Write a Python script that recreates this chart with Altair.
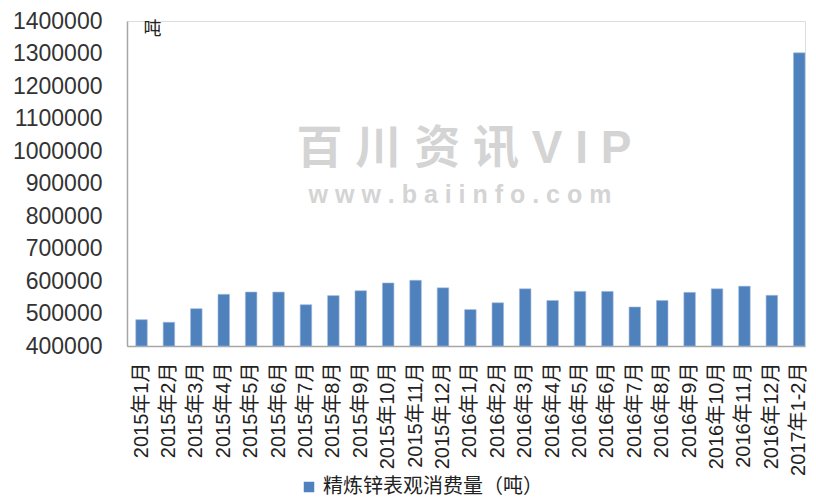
import altair as alt
import pandas as pd

months = [
    "2015年1月", "2015年2月", "2015年3月", "2015年4月", "2015年5月", "2015年6月",
    "2015年7月", "2015年8月", "2015年9月", "2015年10月", "2015年11月", "2015年12月",
    "2016年1月", "2016年2月", "2016年3月", "2016年4月", "2016年5月", "2016年6月",
    "2016年7月", "2016年8月", "2016年9月", "2016年10月", "2016年11月", "2016年12月",
    "2017年1-2月",
]
consumption = [
    481000, 473000, 515000, 559000, 566000, 566000,
    527000, 555000, 570000, 594000, 602000, 579000,
    512000, 533000, 576000, 540000, 568000, 568000,
    520000, 540000, 565000, 576000, 584000, 556000,
    1302000,
]
series_name = "精炼锌表观消费量（吨）"
y_ticks = [400000, 500000, 600000, 700000, 800000, 900000, 1000000,
           1100000, 1200000, 1300000, 1400000]

df = pd.DataFrame({"month": months, "value": consumption, "series": series_name})

FONT = "Liberation Sans, Noto Sans CJK SC"
W, H = 678, 325

bars = alt.Chart(df).mark_bar(color="#4F81BD", stroke="#9DB9DE", strokeWidth=0.6).encode(
    x=alt.X(
        "month:N",
        sort=months,
        scale=alt.Scale(paddingInner=0.58, paddingOuter=0.16, align=1),
        axis=alt.Axis(
            title=None, labelAngle=270, labelFontSize=20, labelFont=FONT,
            labelColor="#222222", labelPadding=16, ticks=False,
            domainColor="#A6A6A6", domainWidth=1.5, labelAlign="right",
            labelBaseline="middle",
        ),
    ),
    y=alt.Y(
        "value:Q",
        scale=alt.Scale(domain=[400000, 1400000], zero=False, nice=False),
        axis=alt.Axis(
            values=y_ticks, format="d", grid=False, ticks=False,
            labelFontSize=23, labelFont=FONT, labelColor="#333333", labelPadding=25,
            domainColor="#A6A6A6", domainWidth=1.5,
            title="吨", titleAngle=0, titleFont=FONT, titleFontSize=18,
            titleFontWeight="normal", titleColor="#222222",
            titleAlign="left", titleBaseline="middle", titleX=16, titleY=8,
        ),
    ),
    y2=alt.datum(400000),
    color=alt.Color(
        "series:N",
        scale=alt.Scale(range=["#4F81BD"]),
        legend=alt.Legend(
            title=None, orient="none", legendX=172, legendY=456,
            symbolType="square", symbolSize=110, symbolStrokeWidth=0,
            labelFontSize=20, labelFont=FONT, labelColor="#222222",
            padding=0, labelOffset=4, labelLimit=0,
        ),
    ),
)

wm_df = pd.DataFrame({"t1": ["百 川 资 讯  V I P"], "t2": ["w  w  w  .  b  a  i  i  n  f  o  .  c  o  m"]})

wm1 = alt.Chart(wm_df).mark_text(
    fontSize=46, font=FONT, fontWeight="bold", color="#D4D4D4", align="center", baseline="middle"
).encode(x=alt.value(337), y=alt.value(128), text="t1:N")

wm2 = alt.Chart(wm_df).mark_text(
    fontSize=25, font=FONT, fontWeight="bold", color="#D4D4D4", align="center", baseline="middle"
).encode(x=alt.value(333), y=alt.value(174), text="t2:N")

chart = alt.layer(wm1, wm2, bars).properties(
    width=W, height=H,
    autosize=alt.AutoSizeParams(type="none"),
    padding={"left": 119, "top": 13, "right": 3, "bottom": 150},
).configure_view(stroke=None).configure(background="white")

chart.save("out.html", embed_options={"renderer": "svg", "actions": False})
